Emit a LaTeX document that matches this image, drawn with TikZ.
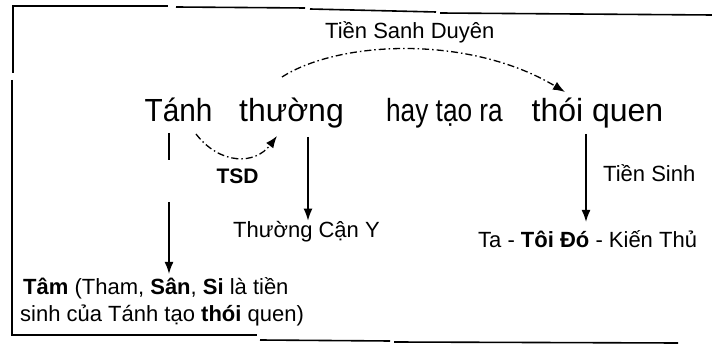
\documentclass[tikz,border=0pt]{standalone}
\usepackage{fontspec}
\usepackage{graphicx}
\setmainfont{Liberation Sans}
\usetikzlibrary{arrows.meta}
\begin{document}
\begin{tikzpicture}[x=1pt,y=-1pt,
  big/.style={font=\fontsize{32}{38}\selectfont, inner sep=0pt, anchor=base},
  lbl/.style={font=\fontsize{22}{27}\selectfont, inner sep=0pt, anchor=base west},
  frameline/.style={line width=1.6pt},
  link/.style={line width=1.3pt},
  tip/.style={-{Latex[length=12pt,width=9pt]}},
  dashdot/.style={dash pattern=on 7pt off 3pt on 1.5pt off 3pt}
]
\useasboundingbox (0,0) rectangle (712,344);

% hand-drawn frame, open on the right
\draw[frameline] (13,73) -- (13,6) -- (168,6);
\draw[frameline] (176,7) -- (305,8);
\draw[frameline] (310,9) -- (436,12);
\draw[frameline] (440,13) -- (712,15);
\draw[frameline] (12,80) -- (12,335) -- (257,335);
\draw[frameline] (260,340) -- (390,341);
\draw[frameline] (394,342) -- (678,343);

% main sentence
\node[big] (tanh)   at (178.5,122) {\scalebox{0.93}[1]{Tánh}};
\node[big] (thuong) at (291.5,122) {thường};
\node[big] (hay)    at (444.5,122) {\scalebox{0.82}[1]{hay tạo ra}};
\node[big] (thoi)   at (597.5,122) {thói quen};

% labels
\node[lbl] (sanh) at (325,39) {Tiền Sanh Duyên};
\node[font=\fontsize{21}{25}\selectfont\bfseries, inner sep=0pt, anchor=base] (tsd) at (237.5,184) {TSD};
\node[lbl] (can)  at (233,238) {Thường Cận Y};
\node[lbl] (sinh) at (603,182) {Tiền Sinh};
\node[lbl] (toi)  at (478,248) {Ta - \textbf{Tôi Đó} - Kiến Thủ};
\node[lbl] (tam)  at (23,295) {\textbf{Tâm} (Tham, \textbf{Sân}, \textbf{Si} là tiền};
\node[lbl] (tam2) at (20,322) {sinh của Tánh tạo \textbf{thói} quen)};

% Tánh -> Tâm (broken stroke)
\coordinate (tA) at (169,133);
\coordinate (tB) at (169,160);
\coordinate (tC) at (169,202);
\draw[link] (tA) -- (tB);
\draw[link, tip, shorten >=4pt] (tC) -- (tC |- tam.north);

% thường -> Thường Cận Y
\coordinate (cx) at (308,0);
\draw[link, tip, shorten <=8pt, shorten >=1pt] (cx |- thuong.south) -- (cx |- can.north);

% thói quen -> Ta - Tôi Đó - Kiến Thủ
\coordinate (qx) at (586,0);
\draw[link, tip, shorten <=5pt, shorten >=9pt] (qx |- thoi.south) -- (qx |- toi.north);

% TSD arc between Tánh and thường
\coordinate (tsdA) at (196,134);
\coordinate (tsdB) at (277,136);
\draw[link, dashdot, tip] (tsdA) .. controls (220,165) and (255,165) .. (tsdB);

% Tiền Sanh Duyên arc from thường to thói quen
\coordinate (arcA) at (282,77);
\coordinate (arcB) at (565,92);
\draw[link, dashdot, tip] (arcA) .. controls (340,40) and (470,35) .. (arcB);
\end{tikzpicture}
\end{document}
